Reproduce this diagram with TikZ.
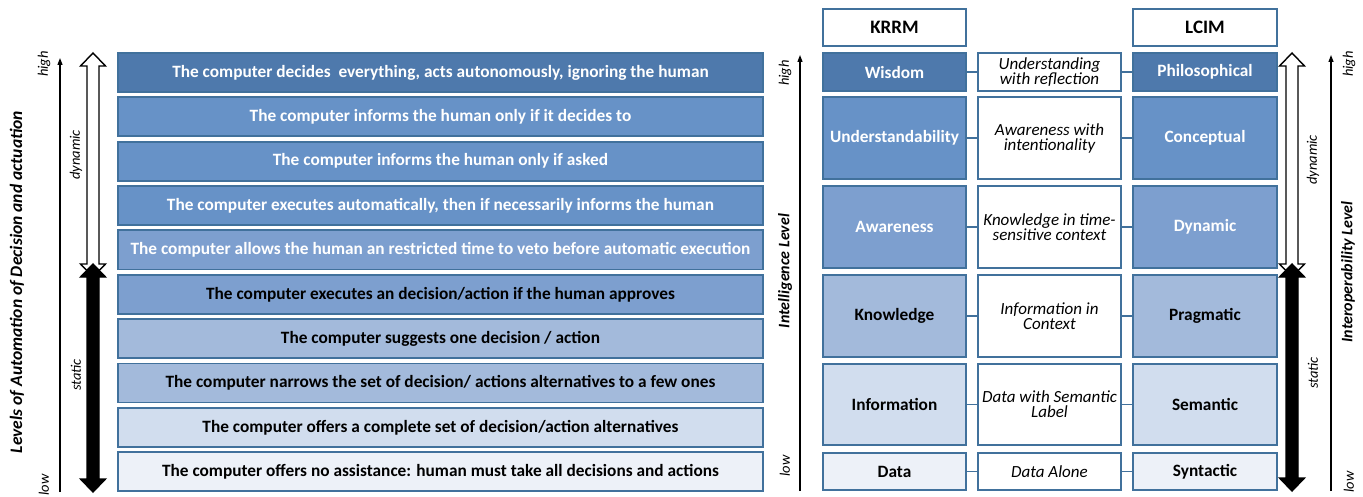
\documentclass[tikz,border=0pt]{standalone}
\usepackage{fontspec}
\setmainfont{Carlito}
\usetikzlibrary{arrows.meta}

% colours of the level boxes, from darkest to lightest
\definecolor{edge}{RGB}{65,113,156}
\definecolor{lvA}{RGB}{78,121,172}
\definecolor{lvB}{RGB}{103,146,199}
\definecolor{lvC}{RGB}{125,159,207}
\definecolor{lvD}{RGB}{163,186,219}
\definecolor{lvE}{RGB}{209,221,238}
\definecolor{lvF}{RGB}{237,241,248}

% double-headed block arrow: x, top tip y, bottom tip y, fill
\newcommand\blockarrow[4]{%
  \draw[line width=1.4pt, fill=#4, line join=miter]
    (#1,#2) -- (#1+12.5,#2+13) -- (#1+6,#2+13) -- (#1+6,#3-13)
    -- (#1+12.5,#3-13) -- (#1,#3) -- (#1-12.5,#3-13) -- (#1-6,#3-13)
    -- (#1-6,#2+13) -- (#1-12.5,#2+13) -- cycle;}

\begin{document}
\begin{tikzpicture}[x=1pt,y=-1pt,
  box/.style={draw=edge, line width=1.8pt, inner sep=0pt, align=center,
    font=\bfseries\fontsize{17.3}{19}\selectfont},
  lvl/.style={box, minimum width=645pt, minimum height=39pt},
  col/.style={box, minimum width=143pt},
  mid/.style={draw=edge, line width=1.8pt, fill=white, inner sep=0pt, align=center,
    minimum width=143pt, font=\itshape\fontsize{17}{15}\selectfont},
  head/.style={box, fill=white, minimum width=143pt, minimum height=37pt,
    font=\bfseries\fontsize{19}{20}\selectfont},
  wt/.style={text=white},
  link/.style={draw=edge, line width=1.8pt},
  axis/.style={line width=1.2pt, -{Triangle[length=7pt,width=5pt]}},
  tick/.style={rotate=90, font=\itshape\fontsize{14.5}{14.5}\selectfont},
  axtitle/.style={rotate=90, font=\bfseries\itshape\fontsize{16}{16}\selectfont}]
\useasboundingbox (0,0) rectangle (1363,497);

% ---- levels of automation ----
\node[lvl, fill=lvA, wt] (r1) at (440.5,72.5) {The computer decides\ \ everything, acts autonomously, ignoring the human};
\node[lvl, fill=lvB, wt] (r2) at (440.5,116.9) {The computer informs the human only if it decides to};
\node[lvl, fill=lvB, wt] (r3) at (440.5,161.2) {The computer informs the human only if asked};
\node[lvl, fill=lvB, wt] (r4) at (440.5,205.6) {The computer executes automatically, then if necessarily informs the human};
\node[lvl, fill=lvC, wt] (r5) at (440.5,249.9) {The computer allows the human an restricted time to veto before automatic execution};
\node[lvl, fill=lvC] (r6) at (440.5,294.3) {The computer executes an decision/action if the human approves};
\node[lvl, fill=lvD] (r7) at (440.5,338.6) {The computer suggests one decision / action};
\node[lvl, fill=lvD] (r8) at (440.5,383.0) {The computer narrows the set of decision/ actions alternatives to a few ones};
\node[lvl, fill=lvE] (r9) at (440.5,427.3) {The computer offers a complete set of decision/action alternatives};
\node[lvl, fill=lvF] (r10) at (440.5,471.7) {The computer offers no assistance: human must take all decisions and actions};

% left axis
\coordinate (la0) at (60,492);
\coordinate (la1) at (60,58);
\draw[axis] (la0) -- (la1);
\node[tick] (lhigh) at (44,64) {high};
\node[tick] (llow) at (44,485) {low};
\node[axtitle, font=\bfseries\itshape\fontsize{17.5}{17.5}\selectfont] (ltitle) at (17,282) {Levels of Automation of Decision and actuation};
\node[tick] (ldyn) at (76,155) {dynamic};
\node[tick] (lsta) at (76,375) {static};
\blockarrow{93}{53}{277}{white}
\blockarrow{93}{264}{492}{black}

% ---- intelligence level axis ----
\coordinate (ia0) at (800,491);
\coordinate (ia1) at (800,55);
\draw[axis] (ia0) -- (ia1);
\node[tick] (ihigh) at (785,73) {high};
\node[tick] (ilow) at (785,466) {low};
\node[axtitle] (ititle) at (785,271) {Intelligence Level};

% ---- KRRM / LCIM columns ----
\node[head] (krrm) at (894.5,27.5) {KRRM};
\node[head, minimum width=144pt] (lcim) at (1205,27.5) {LCIM};

\node[col, fill=lvA, wt, minimum height=38pt] (k1) at (894.5,72) {Wisdom};
\node[col, fill=lvB, wt, minimum height=82pt] (k2) at (894.5,138) {Understandability};
\node[col, fill=lvC, wt, minimum height=82pt] (k3) at (894.5,227) {Awareness};
\node[col, fill=lvD, minimum height=82pt] (k4) at (894.5,316) {Knowledge};
\node[col, fill=lvE, minimum height=81pt] (k5) at (894.5,404.5) {Information};
\node[col, fill=lvF, minimum height=37pt] (k6) at (894.5,471.5) {Data};

\node[mid, minimum height=38pt] (m1) at (1049.5,72) {Understanding\\with reflection};
\node[mid, minimum height=82pt] (m2) at (1049.5,138) {Awareness with\\intentionality};
\node[mid, minimum height=82pt] (m3) at (1049.5,227) {Knowledge in time-\\sensitive context};
\node[mid, minimum height=82pt] (m4) at (1049.5,316) {Information in\\Context};
\node[mid, minimum height=81pt] (m5) at (1049.5,404.5) {Data with Semantic\\Label};
\node[mid, minimum height=37pt] (m6) at (1049.5,471.5) {Data Alone};

\node[col, fill=lvA, wt, minimum width=144pt, minimum height=38pt] (l1) at (1205,72) {Philosophical};
\node[col, fill=lvB, wt, minimum width=144pt, minimum height=82pt] (l2) at (1205,138) {Conceptual};
\node[col, fill=lvC, wt, minimum width=144pt, minimum height=82pt] (l3) at (1205,227) {Dynamic};
\node[col, fill=lvD, minimum width=144pt, minimum height=82pt] (l4) at (1205,316) {Pragmatic};
\node[col, fill=lvE, minimum width=144pt, minimum height=81pt] (l5) at (1205,404.5) {Semantic};
\node[col, fill=lvF, minimum width=144pt, minimum height=37pt] (l6) at (1205,471.5) {Syntactic};

\foreach \i in {1,...,6}{
  \draw[link] (k\i.east) -- (m\i.west);
  \draw[link] (m\i.east) -- (l\i.west);
}

% ---- interoperability level axis ----
\blockarrow{1292}{53}{277}{white}
\blockarrow{1292}{264}{491}{black}
\node[tick] (rdyn) at (1313,160) {dynamic};
\node[tick] (rsta) at (1313,373) {static};
\coordinate (ra0) at (1331,491);
\coordinate (ra1) at (1331,55);
\draw[axis] (ra0) -- (ra1);
\node[tick] (rhigh) at (1349,64) {high};
\node[tick] (rlow) at (1349,482) {low};
\node[axtitle] (rtitle) at (1348,272) {Interoperability Level};
\end{tikzpicture}
\end{document}
